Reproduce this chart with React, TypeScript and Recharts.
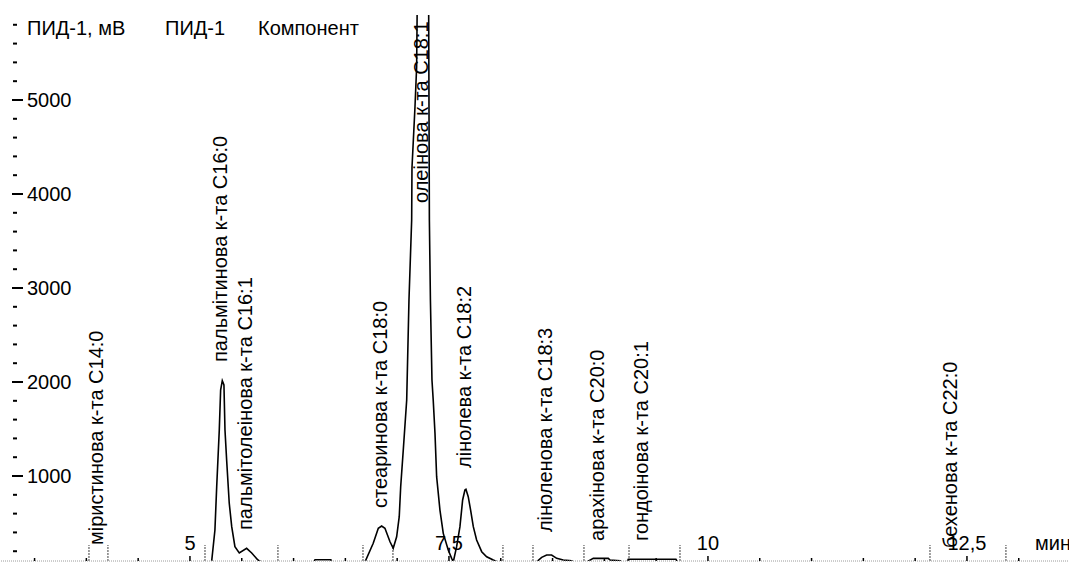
import React from 'react'
import { ComposedChart, Line, Scatter, XAxis, YAxis, ReferenceLine } from 'recharts'

// chromatogram trace, retention time in min and signal in mV
const signalTime = [
  3.18, 5.18, 5.209, 5.241, 5.258, 5.283, 5.296, 5.312, 5.328, 5.338, 5.354, 5.379, 5.403, 5.434, 5.476,
  5.547, 5.596, 5.656, 5.705, 5.73, 6.19, 6.207, 6.36, 6.38, 6.66, 6.689, 6.769, 6.818, 6.85, 6.882, 6.931,
  6.962, 6.995, 7.02, 7.034, 7.059, 7.092, 7.114, 7.14, 7.143, 7.172, 7.188, 7.196, 7.25, 7.303, 7.311,
  7.321, 7.336, 7.348, 7.365, 7.381, 7.413, 7.445, 7.493, 7.526, 7.542, 7.574, 7.606, 7.632, 7.654, 7.664,
  7.686, 7.709, 7.735, 7.767, 7.816, 7.864, 7.928, 7.992, 8.02, 8.33, 8.347, 8.395, 8.443, 8.491, 8.54,
  8.603, 8.684, 8.726, 8.822, 8.845, 8.893, 9.038, 9.054, 9.151, 9.18, 9.208, 9.231, 9.691, 9.72, 13.49,
]
const signalValue = [
  60, 60, 88, 426, 886, 1489, 1915, 2014, 1968, 1489, 1170, 713, 461, 248, 181,
  231, 181, 106, 74, 60, 60, 110, 110, 60, 60, 85, 284, 444, 468, 444, 301,
  231, 354, 567, 886, 1277, 1809, 2872, 3723, 4277, 4926, 5351, 6300, 6600, 6300, 3723,
  2872, 2021, 1809, 1457, 993, 638, 390, 213, 124, 88, 248, 461, 745, 851, 859,
  780, 638, 461, 319, 195, 141, 106, 74, 60, 60, 88, 135, 160, 160, 124,
  106, 99, 60, 60, 96, 124, 124, 106, 99, 60, 60, 114, 114, 60, 60,
]

const peakNames = [
  'міристинова к-та С14:0',
  'пальмітинова к-та С16:0',
  'пальмітолеінова к-та С16:1',
  'стеаринова к-та С18:0',
  'олеінова к-та С18:1',
  'лінолева к-та С18:2',
  'ліноленова к-та С18:3',
  'арахінова к-та С20:0',
  'гондоінова к-та С20:1',
  'бехенова к-та С22:0',
]
const peakTimes = [4.11, 5.31, 5.55, 6.85, 7.25, 7.66, 8.45, 8.95, 9.37, 12.36]
const labelStart = [266, 2213, 426, 660, 3904, 1085, 404, 309, 309, 234]

// integration start/end marks
const markerTimes = [4.025, 4.208, 5.145, 5.849, 6.67, 6.959, 8.021, 8.311, 8.803, 9.238, 9.73, 12.143, 12.876]

const xTicks = [3.5, 4, 4.5, 5, 5.5, 6, 6.5, 7, 7.5, 8, 8.5, 9, 9.5, 10, 10.5, 11, 11.5, 12, 12.5, 13]
const xTickLabels: Record<string, string> = { '5': '5', '7.5': '7,5', '10': '10', '12.5': '12,5' }
const yTicks = [
  200, 400, 600, 800, 1000, 1200, 1400, 1600, 1800, 2000, 2200, 2400, 2600, 2800, 3000,
  3200, 3400, 3600, 3800, 4000, 4200, 4400, 4600, 4800, 5000, 5200, 5400, 5600, 5800,
]

const FONT = 'Arial, "Liberation Sans", sans-serif'

const signalData = signalTime.map((t, i) => ({ t, v: signalValue[i] }))
const labelData = peakNames.map((name, i) => ({ t: peakTimes[i], v: labelStart[i], name }))

const XTick = ({ x, y, payload }: any) => {
  const label = xTickLabels[String(payload.value)]
  const major = label !== undefined
  return (
    <g>
      <line x1={x} x2={x} y1={y} y2={y - (major ? 5 : 3)} stroke="#000" strokeWidth={1.5} />
      {major && (
        <text x={x} y={y - 11} textAnchor="middle" fontSize={20} fontFamily={FONT} fill="#000">
          {label}
        </text>
      )}
    </g>
  )
}

const YTick = ({ y, payload }: any) => {
  const major = payload.value % 1000 === 0
  return (
    <g>
      <line x1={major ? 12 : 13} x2={major ? 23 : 17} y1={y} y2={y} stroke="#000" strokeWidth={2} />
      {major && (
        <text x={27} y={y + 7} fontSize={20} fontFamily={FONT} fill="#000">
          {payload.value}
        </text>
      )}
    </g>
  )
}

const PeakLabel = ({ cx, cy, payload }: any) => {
  const bx = cx + 5
  return (
    <text x={bx} y={cy} transform={`rotate(-90 ${bx} ${cy})`} fontSize={20} fontFamily={FONT} fill="#000">
      {payload.name}
    </text>
  )
}

export default function App() {
  return (
    <div style={{ position: 'relative', width: 1069, height: 562, background: '#fff', overflow: 'hidden' }}>
      <style>{'body{margin:0}'}</style>
      <ComposedChart width={1069} height={562} margin={{ top: 15, right: 0, bottom: 0, left: 0 }}>
        <XAxis
          dataKey="t"
          type="number"
          domain={[3.176, 13.485]}
          allowDataOverflow
          ticks={xTicks}
          interval={0}
          height={1}
          tickSize={0}
          tickMargin={0}
          tickLine={false}
          axisLine={{ stroke: '#9a9a9a', strokeDasharray: '1 1' }}
          tick={<XTick />}
        />
        <YAxis
          type="number"
          domain={[96, 5904]}
          allowDataOverflow
          ticks={yTicks}
          interval={0}
          width={1}
          tickSize={0}
          tickMargin={0}
          tickLine={false}
          axisLine={false}
          tick={<YTick />}
        />
        {markerTimes.map((t) => (
          <ReferenceLine
            key={t}
            segment={[{ x: t, y: 100 }, { x: t, y: 266 }]}
            stroke="#000"
            strokeDasharray="1 2"
            strokeWidth={1.5}
          />
        ))}
        <Line
          data={signalData}
          dataKey="v"
          type="linear"
          stroke="#000"
          strokeWidth={1.6}
          dot={false}
          isAnimationActive={false}
        />
        <Scatter data={labelData} dataKey="v" shape={<PeakLabel />} isAnimationActive={false} />
      </ComposedChart>
      <svg width={1069} height={562} style={{ position: 'absolute', left: 0, top: 0, pointerEvents: 'none' }}>
        <g fontSize={20} fontFamily={FONT} fill="#000">
          <text x={27} y={35}>ПИД-1, мВ</text>
          <text x={165} y={35}>ПИД-1</text>
          <text x={258} y={35}>Компонент</text>
          <text x={1035} y={550}>мин</text>
        </g>
      </svg>
    </div>
  )
}
